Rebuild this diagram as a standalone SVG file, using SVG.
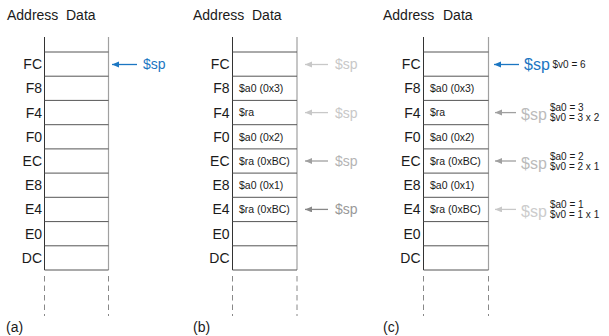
<svg xmlns="http://www.w3.org/2000/svg" width="609" height="336" viewBox="0 0 609 336">
<style>
text{font-family:"Liberation Sans",Arial,Helvetica,sans-serif;fill:#1a1a1a}
.hdr{font-size:14px}
.addr{font-size:14px;text-anchor:end}
.cell{font-size:10.5px}
.note{font-size:10px}
.sp{font-size:14px}
.spl{font-size:16px}
.vl{stroke:#333;stroke-width:1}
.vr{stroke:#a0a0a0;stroke-width:1.2}
.hl{stroke:#555;stroke-width:1}
.dash{stroke:#888;stroke-width:1;stroke-dasharray:5.5 4}
.blue{fill:#1b76c2}
</style>
<defs>
<marker id="mBlue" markerUnits="userSpaceOnUse" markerWidth="8" markerHeight="7" refX="7" refY="3" orient="auto"><path d="M0,0 L7,3 L0,6 z" fill="#1b76c2"/></marker>
<marker id="mL" markerUnits="userSpaceOnUse" markerWidth="8" markerHeight="7" refX="7" refY="3" orient="auto"><path d="M0,0 L7,3 L0,6 z" fill="#c8c8c8"/></marker>
<marker id="mM" markerUnits="userSpaceOnUse" markerWidth="8" markerHeight="7" refX="7" refY="3" orient="auto"><path d="M0,0 L7,3 L0,6 z" fill="#a0a0a0"/></marker>
<marker id="mD" markerUnits="userSpaceOnUse" markerWidth="8" markerHeight="7" refX="7" refY="3" orient="auto"><path d="M0,0 L7,3 L0,6 z" fill="#888"/></marker>
</defs>

<!-- Panel (a) -->
<g id="panel-a">
<text class="hdr" x="7" y="20">Address</text>
<text class="hdr" x="66" y="20">Data</text>
<line class="vl" x1="44.5" y1="37" x2="44.5" y2="270"/>
<line class="vr" x1="108.5" y1="37" x2="108.5" y2="270"/>
<line class="hl" x1="44.5" y1="52" x2="108.5" y2="52"/>
<line class="hl" x1="44.5" y1="76.2" x2="108.5" y2="76.2"/>
<line class="hl" x1="44.5" y1="100.4" x2="108.5" y2="100.4"/>
<line class="hl" x1="44.5" y1="124.7" x2="108.5" y2="124.7"/>
<line class="hl" x1="44.5" y1="148.9" x2="108.5" y2="148.9"/>
<line class="hl" x1="44.5" y1="173.1" x2="108.5" y2="173.1"/>
<line class="hl" x1="44.5" y1="197.3" x2="108.5" y2="197.3"/>
<line class="hl" x1="44.5" y1="221.6" x2="108.5" y2="221.6"/>
<line class="hl" x1="44.5" y1="245.8" x2="108.5" y2="245.8"/>
<line class="hl" x1="44.5" y1="270" x2="108.5" y2="270"/>
<line class="dash" x1="44.5" y1="276" x2="44.5" y2="316"/>
<line class="dash" x1="108.5" y1="276" x2="108.5" y2="316"/>
<text class="addr" x="42" y="69">FC</text>
<text class="addr" x="42" y="93.3">F8</text>
<text class="addr" x="42" y="117.6">F4</text>
<text class="addr" x="42" y="141.8">F0</text>
<text class="addr" x="42" y="166">EC</text>
<text class="addr" x="42" y="190.2">E8</text>
<text class="addr" x="42" y="214.4">E4</text>
<text class="addr" x="42" y="238.7">E0</text>
<text class="addr" x="42" y="262.9">DC</text>
<text class="sp blue" x="143" y="69">$sp</text>
<text class="hdr" x="6" y="332">(a)</text>
</g>

<!-- Panel (b) -->
<g id="panel-b">
<text class="hdr" x="193" y="20">Address</text>
<text class="hdr" x="252" y="20">Data</text>
<line class="vl" x1="232.5" y1="37" x2="232.5" y2="270"/>
<line class="vr" x1="297" y1="37" x2="297" y2="270"/>
<line class="hl" x1="232.5" y1="52" x2="297" y2="52"/>
<line class="hl" x1="232.5" y1="76.2" x2="297" y2="76.2"/>
<line class="hl" x1="232.5" y1="100.4" x2="297" y2="100.4"/>
<line class="hl" x1="232.5" y1="124.7" x2="297" y2="124.7"/>
<line class="hl" x1="232.5" y1="148.9" x2="297" y2="148.9"/>
<line class="hl" x1="232.5" y1="173.1" x2="297" y2="173.1"/>
<line class="hl" x1="232.5" y1="197.3" x2="297" y2="197.3"/>
<line class="hl" x1="232.5" y1="221.6" x2="297" y2="221.6"/>
<line class="hl" x1="232.5" y1="245.8" x2="297" y2="245.8"/>
<line class="hl" x1="232.5" y1="270" x2="297" y2="270"/>
<line class="dash" x1="232.5" y1="276" x2="232.5" y2="316"/>
<line class="dash" x1="297" y1="276" x2="297" y2="316"/>
<text class="addr" x="229.5" y="69">FC</text>
<text class="addr" x="229.5" y="93.3">F8</text>
<text class="addr" x="229.5" y="117.6">F4</text>
<text class="addr" x="229.5" y="141.8">F0</text>
<text class="addr" x="229.5" y="166">EC</text>
<text class="addr" x="229.5" y="190.2">E8</text>
<text class="addr" x="229.5" y="214.4">E4</text>
<text class="addr" x="229.5" y="238.7">E0</text>
<text class="addr" x="229.5" y="262.9">DC</text>
<text class="cell" x="239" y="92.1">$a0 (0x3)</text>
<text class="cell" x="239" y="116.4">$ra</text>
<text class="cell" x="239" y="140.6">$a0 (0x2)</text>
<text class="cell" x="239" y="164.8">$ra (0xBC)</text>
<text class="cell" x="239" y="189">$a0 (0x1)</text>
<text class="cell" x="239" y="213.2">$ra (0xBC)</text>
<text class="sp" x="335" y="69" style="fill:#c8c8c8">$sp</text>
<text class="sp" x="335" y="117.6" style="fill:#c8c8c8">$sp</text>
<text class="sp" x="335" y="166" style="fill:#b4b4b4">$sp</text>
<text class="sp" x="335" y="214.4" style="fill:#999">$sp</text>
<text class="hdr" x="193" y="332">(b)</text>
</g>

<!-- Panel (c) -->
<g id="panel-c">
<text class="hdr" x="383" y="20">Address</text>
<text class="hdr" x="443" y="20">Data</text>
<line class="vl" x1="423.5" y1="37" x2="423.5" y2="270"/>
<line class="vr" x1="488.5" y1="37" x2="488.5" y2="270"/>
<line class="hl" x1="423.5" y1="52" x2="488.5" y2="52"/>
<line class="hl" x1="423.5" y1="76.2" x2="488.5" y2="76.2"/>
<line class="hl" x1="423.5" y1="100.4" x2="488.5" y2="100.4"/>
<line class="hl" x1="423.5" y1="124.7" x2="488.5" y2="124.7"/>
<line class="hl" x1="423.5" y1="148.9" x2="488.5" y2="148.9"/>
<line class="hl" x1="423.5" y1="173.1" x2="488.5" y2="173.1"/>
<line class="hl" x1="423.5" y1="197.3" x2="488.5" y2="197.3"/>
<line class="hl" x1="423.5" y1="221.6" x2="488.5" y2="221.6"/>
<line class="hl" x1="423.5" y1="245.8" x2="488.5" y2="245.8"/>
<line class="hl" x1="423.5" y1="270" x2="488.5" y2="270"/>
<line class="dash" x1="423.5" y1="276" x2="423.5" y2="316"/>
<line class="dash" x1="488.5" y1="276" x2="488.5" y2="316"/>
<text class="addr" x="420.5" y="69">FC</text>
<text class="addr" x="420.5" y="93.3">F8</text>
<text class="addr" x="420.5" y="117.6">F4</text>
<text class="addr" x="420.5" y="141.8">F0</text>
<text class="addr" x="420.5" y="166">EC</text>
<text class="addr" x="420.5" y="190.2">E8</text>
<text class="addr" x="420.5" y="214.4">E4</text>
<text class="addr" x="420.5" y="238.7">E0</text>
<text class="addr" x="420.5" y="262.9">DC</text>
<text class="cell" x="430" y="92.1">$a0 (0x3)</text>
<text class="cell" x="430" y="116.4">$ra</text>
<text class="cell" x="430" y="140.6">$a0 (0x2)</text>
<text class="cell" x="430" y="164.8">$ra (0xBC)</text>
<text class="cell" x="430" y="189">$a0 (0x1)</text>
<text class="cell" x="430" y="213.2">$ra (0xBC)</text>
<text class="spl blue" x="524" y="69.8">$sp</text>
<text class="note" x="552.5" y="67.6">$v0 = 6</text>
<text class="spl" x="521" y="120" style="fill:#bbb">$sp</text>
<text class="note" x="550" y="111.2">$a0 = 3</text>
<text class="note" x="550" y="121.2">$v0 = 3 x 2</text>
<text class="spl" x="521" y="168.5" style="fill:#bbb">$sp</text>
<text class="note" x="550" y="159.5">$a0 = 2</text>
<text class="note" x="550" y="169.5">$v0 = 2 x 1</text>
<text class="spl" x="521" y="216.8" style="fill:#ccc">$sp</text>
<text class="note" x="550" y="208">$a0 = 1</text>
<text class="note" x="550" y="218">$v0 = 1 x 1</text>
<text class="hdr" x="383" y="332">(c)</text>
</g>

<!-- Connectors -->
<g id="connectors" fill="none" stroke-width="1.3">
<line x1="137" y1="64.5" x2="112" y2="64.5" stroke="#1b76c2" marker-end="url(#mBlue)"/>
<line x1="328" y1="64.5" x2="305" y2="64.5" stroke="#c8c8c8" marker-end="url(#mL)"/>
<line x1="328" y1="112.6" x2="305" y2="112.6" stroke="#c8c8c8" marker-end="url(#mL)"/>
<line x1="328" y1="161" x2="305" y2="161" stroke="#a0a0a0" marker-end="url(#mM)"/>
<line x1="328" y1="209.4" x2="305" y2="209.4" stroke="#888" marker-end="url(#mD)"/>
<line x1="519" y1="64.5" x2="494" y2="64.5" stroke="#1b76c2" marker-end="url(#mBlue)"/>
<line x1="516" y1="112.6" x2="495" y2="112.6" stroke="#a0a0a0" marker-end="url(#mM)"/>
<line x1="516" y1="161" x2="495" y2="161" stroke="#a0a0a0" marker-end="url(#mM)"/>
<line x1="516" y1="209.4" x2="495" y2="209.4" stroke="#c8c8c8" marker-end="url(#mL)"/>
</g>
</svg>
